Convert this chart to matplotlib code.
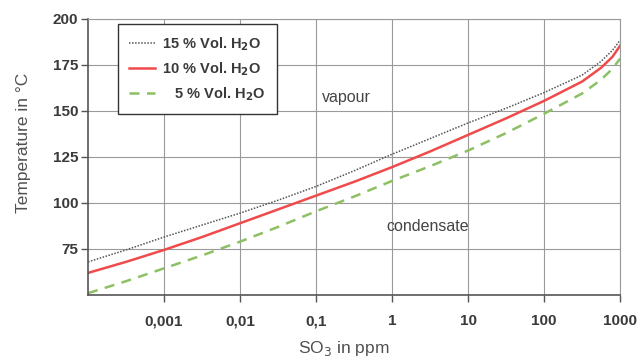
import numpy as np
import matplotlib
matplotlib.use("Agg")
import matplotlib.pyplot as plt
from matplotlib.ticker import FixedLocator, FixedFormatter

plt.rcParams['font.family'] = ['Liberation Sans', 'DejaVu Sans']

# SO3 concentration in ppm (log decades and half decades)
so3_ppm = 10.0 ** np.array([-4, -3.5, -3, -2.5, -2, -1.5, -1, -0.5, 0, 0.5,
                            1, 1.5, 2, 2.5, 2.75, 2.9, 3])

# dew point temperatures in degC
t_15 = [68, 74.5, 81.5, 88, 94.5, 101.5, 109, 117.5, 126.5, 135,
        143.5, 151.5, 160, 169.5, 177, 183, 188.5]
t_10 = [62, 68, 74.5, 81.5, 89, 96.5, 104, 111.5, 119.5, 128,
        137, 146, 155.5, 166, 173.5, 179.5, 185.5]
t_05 = [51, 57.5, 64.5, 71.5, 79, 87, 95.5, 103.5, 112, 120,
        128.5, 138, 148.5, 159.5, 167, 173, 178.5]

x_ticks = [1e-3, 1e-2, 1e-1, 1, 10, 100, 1000]
x_labels = ['0,001', '0,01', '0,1', '1', '10', '100', '1000']
y_ticks = [75, 100, 125, 150, 175, 200]

fig = plt.figure(figsize=(6.38, 3.58), dpi=100)
ax = fig.add_axes([0.138, 0.176, 0.834, 0.771])

ax.plot(so3_ppm, t_15, color='#555555', lw=1.1, ls=(0, (1, 1)),
        label='15 % Vol. H$_\\mathbf{2}$O')
ax.plot(so3_ppm, t_10, color='#f04a4a', lw=1.8, ls='-',
        label='10 % Vol. H$_\\mathbf{2}$O')
ax.plot(so3_ppm, t_05, color='#8cc063', lw=1.8, ls=(0, (4, 3)),
        label='\u2007 5 % Vol. H$_\\mathbf{2}$O')

ax.set_xscale('log')
ax.set_xlim(1e-4, 1e3)
ax.set_ylim(50, 200)
ax.xaxis.set_major_locator(FixedLocator(x_ticks))
ax.xaxis.set_major_formatter(FixedFormatter(x_labels))
ax.xaxis.set_minor_locator(FixedLocator([]))
ax.set_yticks(y_ticks)

ax.grid(True, color='#9a9a9a', lw=0.8)
for s in ['top', 'right']:
    ax.spines[s].set_color('#9a9a9a')
    ax.spines[s].set_linewidth(0.8)
for s in ['left', 'bottom']:
    ax.spines[s].set_color('#555555')
    ax.spines[s].set_linewidth(1.2)

ax.tick_params(axis='both', colors='#555555', length=5, width=1,
               labelsize=11, labelcolor='#3a3a3a')
ax.tick_params(axis='x', pad=9)
ax.tick_params(axis='y', pad=2)
for lab in ax.get_xticklabels() + ax.get_yticklabels():
    lab.set_fontweight('bold')

ax.set_xlabel('SO$_3$ in ppm', fontsize=12.5, color='#505050')
ax.set_ylabel('Temperature in °C', fontsize=12.5, color='#505050')
ax.xaxis.set_label_coords(0.48, -0.16)
ax.yaxis.set_label_coords(-0.108, 0.55)

ax.text(0.12, 157.5, 'vapour', fontsize=11.5, color='#444444', va='center')
ax.text(2.95, 87, 'condensate', fontsize=11.5, color='#444444',
        ha='center', va='center')

leg = ax.legend(loc='upper left', bbox_to_anchor=(0.056, 0.982), fancybox=False,
                framealpha=1, edgecolor='#333333',
                handlelength=1.8, handletextpad=0.5, borderpad=0.75,
                labelspacing=0.5, borderaxespad=0,
                prop={'weight': 'bold', 'size': 10.5})
leg.get_frame().set_linewidth(1.0)
for t in leg.get_texts():
    t.set_color('#3a3a3a')

fig.savefig('out.png', dpi=100)
